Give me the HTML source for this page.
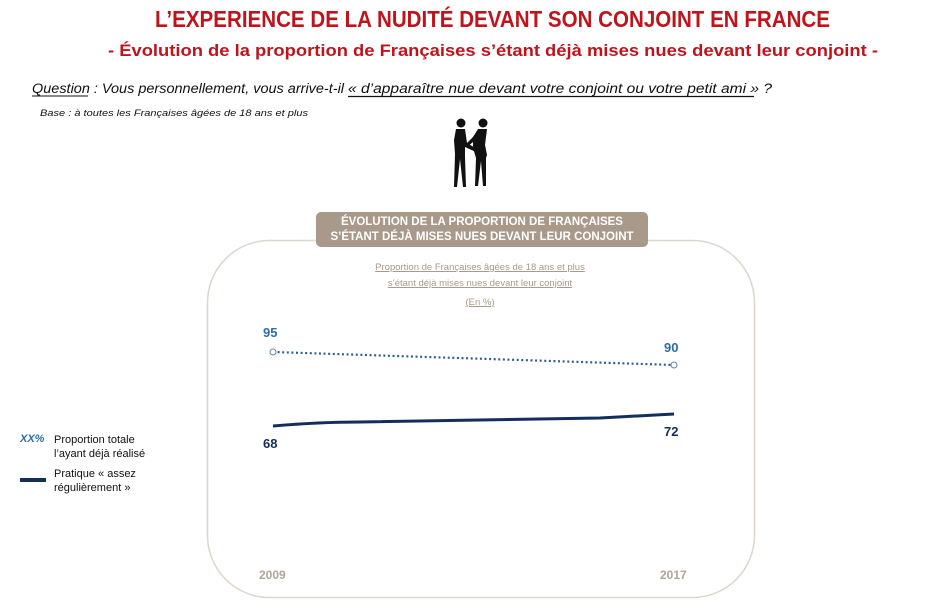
<!DOCTYPE html>
<html><head><meta charset="utf-8"><style>
body{margin:0;width:945px;height:605px;background:#fff;position:relative;overflow:hidden;font-family:"Liberation Sans","DejaVu Sans",sans-serif}
.a{position:absolute;white-space:nowrap}
</style></head><body>
<svg class="a" style="left:0;top:0" width="945" height="605">
<text x="155" y="27" font-size="23" font-weight="bold" fill="#c0141c" textLength="675" lengthAdjust="spacingAndGlyphs">L’EXPERIENCE DE LA NUDITÉ DEVANT SON CONJOINT EN FRANCE</text>
<text x="108" y="56" font-size="17" font-weight="bold" fill="#c0141c" textLength="770" lengthAdjust="spacingAndGlyphs">- Évolution de la proportion de Françaises s’étant déjà mises nues devant leur conjoint -</text>
<text x="32" y="93" font-size="13.5" font-style="italic" fill="#111" textLength="312" lengthAdjust="spacingAndGlyphs">Question : Vous personnellement, vous arrive-t-il</text>
<text x="348" y="93" font-size="13.5" font-style="italic" fill="#111" textLength="424" lengthAdjust="spacingAndGlyphs">« d’apparaître nue devant votre conjoint ou votre petit ami » ?</text>
<line x1="32" y1="96" x2="88" y2="96" stroke="#111" stroke-width="1"/>
<line x1="348" y1="96.5" x2="754" y2="96.5" stroke="#111" stroke-width="1.3"/>
<text x="40" y="116" font-size="9" font-style="italic" fill="#111" textLength="268" lengthAdjust="spacingAndGlyphs">Base :  à toutes les Françaises âgées de 18 ans et plus</text>
<g fill="#111">
<circle cx="461" cy="123" r="4.5"/><path d="M456 129h9l2 14 10 6-1 3-11-5 0 10 1 30h-3l-3-28-3 28h-3l1-33-1-14z"/>
<circle cx="483" cy="123" r="4.5"/><path d="M478 129h9l-2 16 2 10 -1 3 0 28h-3l-2-25-3 25h-3l1-28 -3-10 0-6-6 5-2-2 8-8z"/>
</g>
<rect x="207.5" y="240.5" width="547" height="357" rx="62" fill="none" stroke="#ddd6cf" stroke-width="1.5"/>
<rect x="316" y="212" width="332" height="35" rx="5" fill="#a8998a"/>
<polyline points="273,352 674,365" fill="none" stroke="#2e5f8e" stroke-width="2.2" stroke-dasharray="2,2.6"/>
<circle cx="273" cy="352" r="3" fill="#fff" stroke="#5a84ad" stroke-width="1"/>
<circle cx="674" cy="365" r="3" fill="#fff" stroke="#5a84ad" stroke-width="1"/>
<path d="M273 426 Q320 422 360 422 L600 418 L674 414" fill="none" stroke="#132e5c" stroke-width="3"/>
<rect x="20" y="478" width="26" height="4" fill="#132e5c"/>
</svg>
<div class="a" style="left:316px;width:332px;top:215px;text-align:center;color:#fff;font-weight:bold;font-size:11.5px;line-height:15px">ÉVOLUTION DE LA PROPORTION DE FRANÇAISES<br>S’ÉTANT DÉJÀ MISES NUES DEVANT LEUR CONJOINT</div>
<div class="a" style="left:330px;width:300px;top:260px;text-align:center;color:#a8998a;font-size:9.5px;line-height:16px;text-decoration:underline">Proportion de Françaises âgées de 18 ans et plus<br>s’étant déjà mises nues devant leur conjoint</div>
<div class="a" style="left:330px;width:300px;top:297px;text-align:center;color:#a8998a;font-size:9.5px;text-decoration:underline">(En %)</div>
<div class="a" style="left:263px;top:325px;font-size:13px;font-weight:bold;color:#2e6da4">95</div>
<div class="a" style="left:664px;top:340px;font-size:13px;font-weight:bold;color:#2e6da4">90</div>
<div class="a" style="left:263px;top:436px;font-size:13px;font-weight:bold;color:#132e5c">68</div>
<div class="a" style="left:664px;top:424px;font-size:13px;font-weight:bold;color:#132e5c">72</div>
<div class="a" style="left:259px;top:568px;font-size:12px;font-weight:bold;color:#b0a598">2009</div>
<div class="a" style="left:660px;top:568px;font-size:12px;font-weight:bold;color:#b0a598">2017</div>
<div class="a" style="left:20px;top:433px;font-size:11px;font-style:italic;font-weight:bold;color:#2e6da4">XX%</div>
<div class="a" style="left:54px;top:433px;font-size:11px;line-height:14px;color:#111">Proportion totale<br>l’ayant déjà réalisé</div>
<div class="a" style="left:54px;top:467px;font-size:11px;line-height:14px;color:#111">Pratique « assez<br>régulièrement »</div>
</body></html>
